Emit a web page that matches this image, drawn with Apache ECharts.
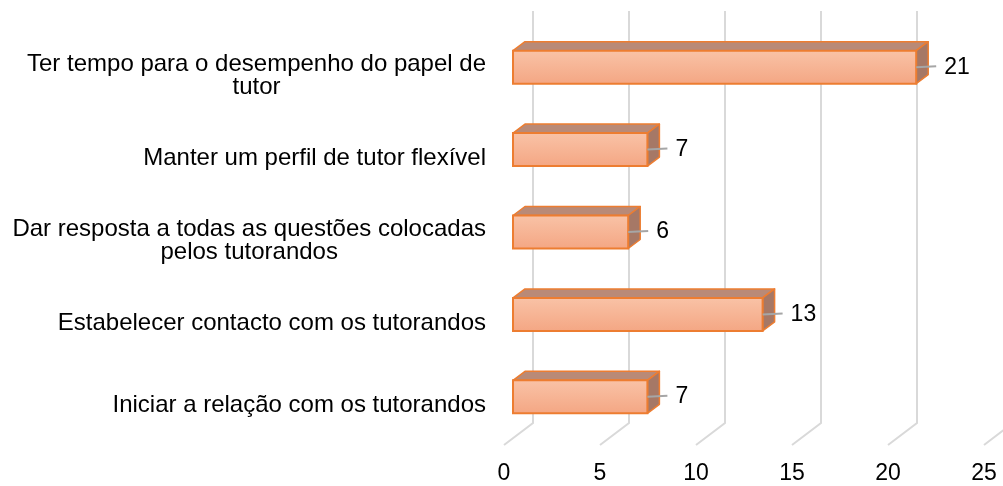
<!DOCTYPE html>
<html>
<head>
<meta charset="utf-8">
<script src="https://cdn.jsdelivr.net/npm/echarts@6/dist/echarts.min.js"></script>
<style>
  html, body { margin: 0; padding: 0; background: #fff; }
  #chartDiv { width: 1003px; height: 486px; }
</style>
</head>
<body>
<div id="chartDiv"></div>
<script>
var categories = [
    'Ter tempo para o desempenho do papel de\ntutor',
    'Manter um perfil de tutor flexível',
    'Dar resposta a todas as questões colocadas\npelos tutorandos',
    'Estabelecer contacto com os tutorandos',
    'Iniciar a relação com os tutorandos'
];
var values = [21, 7, 6, 13, 7];
var xTicks = [0, 5, 10, 15, 20, 25];

var font = "'Liberation Sans', Arial, sans-serif";
// 3D offsets (px) from the bar front plane
var wallOff = [20, -15];   // back wall
var floorOff = [-9, 7];    // front edge of floor
var depth = [12, -9];      // bar depth

var myChart = echarts.init(document.getElementById('chartDiv'));

var option = {
    animation: false,
    grid: {
        left: 513,
        right: 10,
        top: 26,
        bottom: 48,
        containLabel: false,
        outerBoundsMode: 'none'
    },
    xAxis: {
        type: 'value',
        min: 0,
        max: 25,
        interval: 5,
        axisLine: { show: false },
        axisTick: { show: false },
        splitLine: { show: false },
        axisLabel: {
            color: '#000',
            fontSize: 23,
            fontFamily: font,
            margin: 24,
            padding: [0, 18, 0, 0]
        }
    },
    yAxis: {
        type: 'category',
        inverse: true,
        data: categories,
        axisLine: { show: false },
        axisTick: { show: false },
        splitLine: { show: false },
        axisLabel: {
            margin: 27,
            padding: [18, 0, 0, 0],
            formatter: function (v) {
                return v.split('\n').map(function (s) { return '{c|' + s + '}'; }).join('\n');
            },
            rich: {
                c: {
                    align: 'center',
                    color: '#000',
                    fontSize: 24,
                    lineHeight: 23,
                    fontFamily: font
                }
            }
        }
    },
    series: [
        {
            // back wall gridlines + floor lines
            type: 'custom',
            clip: false,
            silent: true,
            z: 1,
            data: xTicks.map(function (v) { return [v, 0]; }),
            renderItem: function (params, api) {
                var cs = params.coordSys;
                var x = api.coord([api.value(0), 0])[0];
                var yTop = cs.y, yBot = cs.y + cs.height;
                return {
                    type: 'polyline',
                    shape: {
                        points: [
                            [x + wallOff[0], yTop + wallOff[1]],
                            [x + wallOff[0], yBot + wallOff[1]],
                            [x + floorOff[0], yBot + floorOff[1]]
                        ]
                    },
                    style: { stroke: '#d9d9d9', lineWidth: 2, fill: null }
                };
            }
        },
        {
            // 3D bars
            type: 'custom',
            clip: false,
            z: 2,
            data: values.map(function (v, i) { return [v, i]; }),
            renderItem: function (params, api) {
                var v = api.value(0);
                var p0 = api.coord([0, api.value(1)]);
                var p1 = api.coord([v, api.value(1)]);
                var h = api.size([0, 1])[1] * 0.4;
                var x0 = p0[0], x1 = p1[0];
                var yT = p0[1] - h / 2, yB = p0[1] + h / 2, yc = p0[1];
                var dx = depth[0], dy = depth[1];
                var edge = '#ed7d31';
                return {
                    type: 'group',
                    children: [
                        {
                            type: 'polygon',
                            shape: { points: [[x0, yT], [x1, yT], [x1 + dx, yT + dy], [x0 + dx, yT + dy]] },
                            style: { fill: '#b98a77', stroke: edge, lineWidth: 1.5, lineJoin: 'round' }
                        },
                        {
                            type: 'polygon',
                            shape: { points: [[x1, yT], [x1 + dx, yT + dy], [x1 + dx, yB + dy], [x1, yB]] },
                            style: { fill: '#a67866', stroke: edge, lineWidth: 1.5, lineJoin: 'round' }
                        },
                        {
                            type: 'rect',
                            shape: { x: x0, y: yT, width: x1 - x0, height: h },
                            style: {
                                fill: new echarts.graphic.LinearGradient(0, 0, 0, 1, [
                                    { offset: 0, color: '#f9c3a7' },
                                    { offset: 1, color: '#f4a683' }
                                ]),
                                stroke: edge,
                                lineWidth: 2
                            }
                        },
                        {
                            type: 'line',
                            shape: { x1: x1, y1: yc, x2: x1 + 20, y2: yc - 1 },
                            style: { stroke: '#a6a6a6', lineWidth: 2 }
                        },
                        {
                            type: 'text',
                            style: {
                                text: String(v),
                                x: x1 + 28,
                                y: yc,
                                verticalAlign: 'middle',
                                align: 'left',
                                fill: '#000',
                                fontSize: 23,
                                fontFamily: font
                            }
                        }
                    ]
                };
            }
        }
    ]
};

myChart.setOption(option);
window.addEventListener('resize', function () {
    myChart.resize();
});
</script>
</body>
</html>
